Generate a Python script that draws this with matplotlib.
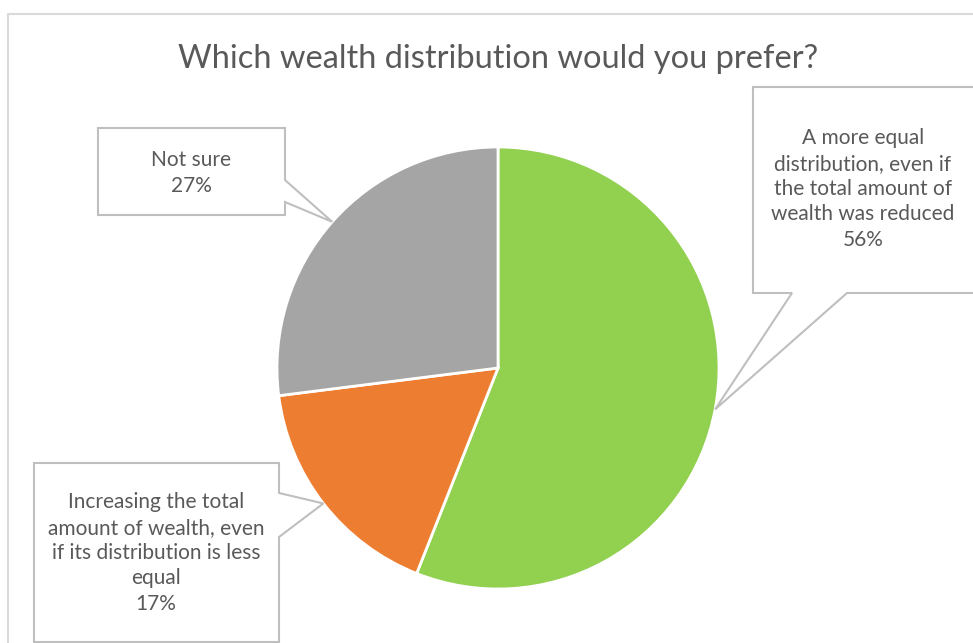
import numpy as np
import matplotlib
matplotlib.use("Agg")
import matplotlib.pyplot as plt
from matplotlib.patches import Polygon

# Survey answers
title = "Which wealth distribution would you prefer?"
labels = [
    "A more equal\ndistribution, even if\nthe total amount of\nwealth was reduced",
    "Increasing the total\namount of wealth, even\nif its distribution is less\nequal",
    "Not sure",
]
shares = [56, 17, 27]
colors = ["#92D050", "#ED7D31", "#A5A5A5"]

W, H = 973, 643
fig = plt.figure(figsize=(W / 100, H / 100), dpi=100)
ax = fig.add_axes([0, 0, 1, 1])

FONT = "Lato"
TXT = "#595959"
EDGE = "#BFBFBF"

cx, cy, r = 498, H - 368, 221
wedges, _ = ax.pie(shares, colors=colors, startangle=90, counterclock=False,
                   center=(cx, cy), radius=r, frame=True,
                   wedgeprops=dict(edgecolor="white", linewidth=2))
ax.set_xlim(0, W)
ax.set_ylim(0, H)
ax.set_aspect("equal")
ax.axis("off")

# chart frame
ax.plot([8, 8, W + 5], [-5, H - 14, H - 14], color="#D9D9D9", lw=1.5, zorder=0)

ax.text(498, H - 59, title, ha="center", va="center", fontsize=23.5,
        color=TXT, family=FONT)

# mid-angle of each wedge, where each callout points
tips = []
for w in wedges:
    mid = np.deg2rad((w.theta1 + w.theta2) / 2)
    tips.append((cx + r * np.cos(mid), cy + r * np.sin(mid)))


def yy(v):
    return H - v


def callout(points, text, tx, ty):
    pts = [(x, yy(y)) for x, y in points]
    ax.add_patch(Polygon(pts, closed=True, facecolor="white", edgecolor=EDGE,
                         lw=1.5, zorder=3))
    ax.text(tx, yy(ty), text, ha="center", va="center", fontsize=15,
            color=TXT, family=FONT, linespacing=1.33, zorder=4)


# green callout (top right), pointer from bottom edge
tgx, tgy = tips[0]
callout([(753, 87), (980, 87), (980, 293), (847, 293), (tgx, yy(tgy)),
         (792, 293), (753, 293)],
        f"{labels[0]}\n{shares[0]}%", 863, 189)

# orange callout (bottom left), pointer from right edge
tox, toy = tips[1]
callout([(34, 463), (279, 463), (279, 493), (tox, yy(toy)), (279, 537),
         (279, 642), (34, 642)],
        f"{labels[1]}\n{shares[1]}%", 156, 553)

# gray callout (top left), pointer from right edge
tax, tay = tips[2]
callout([(98, 128), (285, 128), (285, 180), (tax, yy(tay)), (285, 202),
         (285, 215), (98, 215)],
        f"{labels[2]}\n{shares[2]}%", 191, 173)

fig.savefig("out.png", dpi=100)
